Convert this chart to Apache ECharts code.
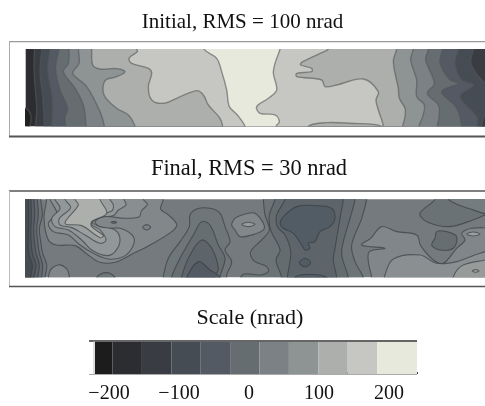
<!DOCTYPE html>
<html><head><meta charset="utf-8">
<style>html,body{margin:0;padding:0;background:#fff}#c{width:485px;height:406px}</style>
<script src="https://cdn.jsdelivr.net/npm/echarts@6/dist/echarts.min.js"></script>
</head><body><div id="c"></div>
<script>
// Scale
const scaleEdges=[-220,-195,-153,-111,-69,-27,15,57,99,141,183,240];
const scaleColors=['#1c1c1c','#2c2d30','#393d43','#464c54','#535a63','#666d70','#7b8184','#8e9494','#adafac','#c6c7c2','#e8e9dd'];
const scaleLabels=[-200,-100,0,100,200];
const b=scaleColors;
// Initial panel contours: x along aperture (77..1455), y across (57..289)
const iLens=[[60,235],[82,238],[93,258],[90,289],[88,320],[60,320]];
const i1=[[103,20],[103,57],[102,120],[106,180],[110,240],[106,289],[106,320],[1600,320],[1600,20]];
const i2=[[125,20],[125,57],[120,125],[128,200],[131,245],[133,289],[133,320],[1600,320],[1600,20]];
const i3=[[150,20],[150,57],[143,120],[155,190],[158,240],[155,289],[155,320],[1600,320],[1600,20]];
const i4=[[177,20],[177,57],[167,115],[180,180],[203,235],[195,262],[197,289],[197,320],[1600,320],[1600,20]];
const i5=[[207,20],[207,57],[205,100],[190,125],[225,175],[250,225],[258,289],[258,320],[1600,320],[1600,20]];
const i6=[[235,20],[235,57],[237,100],[218,130],[260,170],[300,245],[313,289],[313,320],[1600,320],[1600,20]];
const i7=[[275,20],[275,57],[278,105],[300,117],[350,116],[375,125],[350,140],[315,152],[312,195],[350,235],[385,255],[405,289],[410,320],[1600,320],[1600,20]];
const i8=[[410,20],[410,57],[412,65],[387,85],[395,100],[445,115],[455,130],[445,170],[455,210],[490,220],[530,205],[590,182],[610,195],[625,225],[660,265],[668,289],[670,320],[925,320],[925,289],[980,278],[1050,280],[1145,289],[1145,320],[1150,289],[1135,240],[1128,210],[1135,185],[1090,147],[1010,165],[975,170],[965,150],[890,140],[890,130],[935,125],[935,115],[902,105],[905,97],[960,70],[985,57],[1000,20]];
const i9=[[612,20],[612,57],[650,85],[665,125],[680,180],[688,230],[712,255],[735,289],[740,320],[828,320],[828,289],[838,275],[825,255],[780,250],[770,230],[805,205],[830,180],[820,130],[825,100],[840,57],[845,20]];
const r1=[[1190,20],[1190,57],[1180,95],[1195,175],[1198,205],[1215,235],[1215,260],[1208,289],[1208,320],[1600,320],[1600,20]];
const r2=[[1240,20],[1240,57],[1232,90],[1250,150],[1250,200],[1273,225],[1268,260],[1257,289],[1257,320],[1600,320],[1600,20]];
const r3=[[1285,20],[1285,57],[1277,90],[1303,160],[1282,190],[1315,225],[1318,255],[1312,289],[1312,320],[1600,320],[1600,20]];
const r4=[[1327,20],[1327,57],[1320,100],[1350,150],[1375,160],[1325,185],[1370,235],[1385,289],[1385,320],[1600,320],[1600,20]];
const r5=[[1375,20],[1375,57],[1365,100],[1385,150],[1420,165],[1380,200],[1430,260],[1432,289],[1432,320],[1600,320],[1600,20]];
const r6=[[1420,20],[1420,57],[1413,100],[1445,150],[1480,170],[1500,230],[1455,255],[1452,320],[1600,320],[1600,20]];
const initialRegions=[[iLens,'#202122'],[i1,b[2]],[i2,b[3]],[i3,b[4]],[i4,b[5]],[i5,b[6]],[i6,b[7]],[i7,b[8]],[i8,b[9]],[i9,b[10]],[r1,b[7]],[r2,b[6]],[r3,b[5]],[r4,b[4]],[r5,b[3]],[r6,b[2]]];

// Final panel contours: x 77..1455, y 43..277
const fL1=[[140,15],[140,43],[132,100],[145,165],[170,180],[225,182],[262,208],[300,232],[345,232],[395,208],[450,180],[515,140],[530,118],[505,90],[482,72],[490,43],[490,15]];
const fLens=[[150,300],[150,258],[175,240],[200,252],[208,277],[208,300]];
const fSad=[[285,300],[290,277],[318,263],[345,277],[350,300]];
const fL2=[[150,15],[150,43],[170,85],[145,115],[160,140],[205,150],[240,180],[280,205],[325,222],[370,215],[398,185],[400,155],[360,130],[310,130],[285,112],[310,95],[375,100],[418,95],[424,78],[442,58],[430,43],[430,15]];
const fT1=[[165,15],[165,43],[180,70],[155,100],[165,125],[205,135],[245,165],[275,195],[320,212],[345,200],[360,165],[345,135],[300,125],[277,112],[300,97],[340,92],[355,75],[378,60],[372,43],[372,15]];
const fT2=[[195,15],[195,43],[212,68],[178,100],[180,120],[215,128],[255,150],[300,175],[318,165],[300,135],[275,118],[290,92],[335,78],[340,60],[330,43],[330,15]];
const fBright=[[225,15],[225,43],[235,60],[195,115],[245,122],[300,158],[310,152],[275,125],[275,110],[320,85],[300,43],[300,15]];
const fTip=[[333,112],[342,109],[350,112],[342,115]];
const fOval=[[428,127],[440,119],[452,127],[440,135]];
const fH1=[[490,300],[490,275],[505,220],[540,170],[568,125],[570,90],[590,72],[630,70],[660,85],[675,125],[690,170],[675,195],[695,230],[680,270],[680,300]];
const fH2=[[515,300],[515,275],[540,220],[580,150],[605,110],[630,120],[655,180],[675,220],[660,275],[660,300]];
const fH3=[[545,300],[545,275],[570,210],[605,165],[635,190],[655,250],[645,275],[645,300]];
const fH4=[[560,300],[560,277],[595,230],[630,255],[660,277],[660,300]];
const fLobe=[[695,120],[708,98],[745,85],[765,85],[790,115],[790,135],[755,150],[720,155],[705,135]];
const fLobeIn=[[725,118],[745,112],[765,118],[745,125]];
const fD1=[[790,15],[790,43],[795,90],[808,135],[785,165],[752,200],[762,228],[800,245],[805,260],[780,270],[730,268],[720,300],[1090,300],[1090,277],[1065,230],[1055,180],[1085,100],[1100,43],[1100,15]];
const fD2=[[825,15],[825,43],[808,90],[812,135],[840,195],[828,225],[845,277],[845,300],[1045,300],[1045,277],[1025,210],[1030,170],[1050,100],[1065,43],[1065,15]];
const fD3=[[855,15],[855,43],[830,90],[832,125],[855,150],[872,200],[862,277],[862,300],[1010,300],[1010,277],[1000,225],[1005,190],[1020,100],[1030,43],[1030,15]];
const fBlob=[[840,115],[850,95],[890,65],[950,62],[995,70],[1005,100],[990,125],[960,140],[945,170],[925,175],[930,190],[915,195],[905,180],[880,145],[850,130]];
const fSpot=[[898,233],[915,220],[932,233],[915,246]];
const fFoot=[[885,300],[885,277],[925,268],[980,277],[980,300]];
const fTR=[[1305,15],[1305,43],[1260,85],[1280,110],[1345,125],[1405,110],[1480,72],[1480,15]];
const fTR2=[[1345,15],[1345,43],[1405,70],[1480,85],[1480,15]];
const fRight=[[1115,300],[1115,277],[1105,230],[1108,200],[1155,190],[1085,180],[1112,160],[1145,125],[1190,140],[1250,150],[1262,182],[1300,225],[1330,235],[1370,190],[1395,165],[1385,145],[1415,130],[1470,135],[1490,200],[1490,300]];
const fDark=[[1310,140],[1340,140],[1370,155],[1360,190],[1320,195],[1295,180],[1305,160]];
const fRing=[[1400,147],[1420,141],[1440,147],[1420,153]];
const fLt=[[1155,300],[1155,270],[1180,222],[1260,210],[1310,235],[1370,230],[1440,205],[1500,195],[1500,300]];
const fLt2=[[1360,300],[1365,265],[1390,240],[1455,225],[1500,215],[1500,300]];
const fDot=[[1417,258],[1427,254],[1437,258],[1427,262]];
const fS6=[[122,15],[122,43],[127,90],[118,130],[122,170],[128,205],[140,240],[135,277],[135,300],[40,300],[40,15]];
const fS5=[[112,15],[112,43],[115,90],[110,130],[113,170],[118,205],[128,240],[125,277],[125,300],[40,300],[40,15]];
const fS4=[[102,15],[102,43],[104,90],[101,130],[103,170],[108,205],[118,240],[113,277],[113,300],[40,300],[40,15]];
const fS3=[[93,15],[93,43],[94,100],[92,140],[94,180],[98,210],[108,240],[102,277],[102,300],[40,300],[40,15]];
const fS2=[[85,15],[85,43],[86,100],[85,150],[85,190],[88,215],[97,240],[92,277],[92,300],[40,300],[40,15]];
const finalRegions=[[fL1,'#82888a'],[fLens,'#82888a'],[fSad,'#6f767a'],[fL2,'#898f90'],[fT1,'#92979a'],[fT2,'#9c9f9f'],[fBright,'#adafac'],[fTip,'#666d70'],[fOval,'#7b8184'],
 [fH1,'#6f767a'],[fH2,'#676e72'],[fH3,'#5e656a'],[fH4,'#535a63'],[fLobe,'#82888a'],[fLobeIn,'#979c9c'],
 [fD1,'#6d7478'],[fD2,'#656c70'],[fD3,'#5e656a'],[fBlob,'#525c65'],[fSpot,'#525c65'],[fFoot,'#525c65'],
 [fTR,'#6b7276'],[fTR2,'#757c80'],[fRight,'#80868a'],[fDark,'#676e72'],[fRing,'#9a9f9f'],[fLt,'#8a9091'],[fLt2,'#979c9b'],[fDot,'#adafac'],
 [fS6,'#6d7478'],[fS5,'#62696e'],[fS4,'#585f65'],[fS3,'#50565c'],[fS2,'#464c52']];

const serif='"Liberation Serif","Times New Roman",serif';
const chart=echarts.init(document.getElementById('c'),null,{renderer:'canvas'});
function panel(regions,lineColor,lw,gi){
 return {type:'custom',coordinateSystem:'cartesian2d',xAxisIndex:gi,yAxisIndex:gi,clip:true,silent:true,
  data:regions.map((r,i)=>[i]),
  renderItem(params,api){
   const r=regions[params.dataIndex];
   return {type:'polygon',shape:{points:r[0].map(p=>api.coord(p)),smooth:0.35},style:{fill:r[1],stroke:lineColor,lineWidth:lw}};
  }};
}
const hl=(y,x1,x2,c,w)=>({type:'line',silent:true,shape:{x1,y1:y,x2,y2:y},style:{stroke:c,lineWidth:w}});
const vl=(x,y1,y2,c,w)=>({type:'line',silent:true,shape:{x1:x,y1,x2:x,y2},style:{stroke:c,lineWidth:w}});
const hide={show:false};
const ts=s=>({fontFamily:serif,fontSize:s,fontWeight:'normal',color:'#111'});
chart.setOption({
 animation:false,backgroundColor:'#fff',
 title:[
  {text:'Initial, RMS = 100 nrad',left:237.5,top:7,textAlign:'center',textStyle:ts(21)},
  {text:'Final, RMS = 30 nrad',left:244,top:153,textAlign:'center',textStyle:ts(22.4)},
  {text:'Scale (nrad)',left:245,top:302,textAlign:'center',textStyle:ts(22)}
 ],
 grid:[
  {left:25.7,top:49,width:459.3,height:77.3,backgroundColor:b[1],show:true,borderWidth:0},
  {left:25.7,top:199.3,width:459.3,height:78,backgroundColor:'#747a7e',show:true,borderWidth:0},
  {left:95,top:342,width:322,height:32}
 ],
 xAxis:[
  {gridIndex:0,type:'value',min:77,max:1455,show:false},
  {gridIndex:1,type:'value',min:77,max:1455,show:false},
  {gridIndex:2,type:'value',min:-220,max:240,position:'bottom',axisLine:hide,splitLine:hide,
   axisTick:{show:true,inside:true,length:4,customValues:scaleLabels,lineStyle:{color:'#222',width:1}},
   axisLabel:{show:true,customValues:scaleLabels,margin:10,fontFamily:serif,fontSize:20,color:'#111',
    formatter:v=>v<0?'\u2212'+Math.abs(v):String(v)}},
  {gridIndex:2,type:'value',min:-220,max:240,interval:20,position:'bottom',axisLine:hide,splitLine:hide,axisLabel:hide,
   axisTick:{show:true,inside:true,length:2,lineStyle:{color:'#333',width:1}}}
 ],
 yAxis:[
  {gridIndex:0,type:'value',min:57,max:289,inverse:true,show:false},
  {gridIndex:1,type:'value',min:43,max:277,inverse:true,show:false},
  {gridIndex:2,type:'value',min:0,max:1,show:false}
 ],
 series:[
  panel(initialRegions,'rgba(85,87,87,0.6)',1.4,0),
  panel(finalRegions,'rgba(52,58,62,0.65)',1.1,1),
  {type:'custom',coordinateSystem:'cartesian2d',xAxisIndex:2,yAxisIndex:2,silent:true,z:1,
   data:scaleColors.map((c,i)=>[scaleEdges[i],scaleEdges[i+1]]),
   encode:{x:[0,1]},
   renderItem(params,api){
    const a=api.coord([api.value(0),1]),e=api.coord([api.value(1),0]);
    return {type:'rect',shape:{x:a[0],y:a[1],width:e[0]-a[0],height:e[1]-a[1]},style:{fill:scaleColors[params.dataIndex]}};
   }}
 ],
 graphic:[
  hl(41.7,9,485,'#999',1.2),vl(9.5,41,137,'#aaa',1),hl(136.5,9,485,'#555',2),
  hl(191,9,485,'#555',1.6),vl(9.5,191,287,'#bbb',1),hl(286.5,9,485,'#555',1.6),
  hl(341,89,417,'#333',1.4),vl(94,341,374,'#bbb',1),hl(374.5,89,417,'#aaa',1)
 ]
});
</script></body></html>
